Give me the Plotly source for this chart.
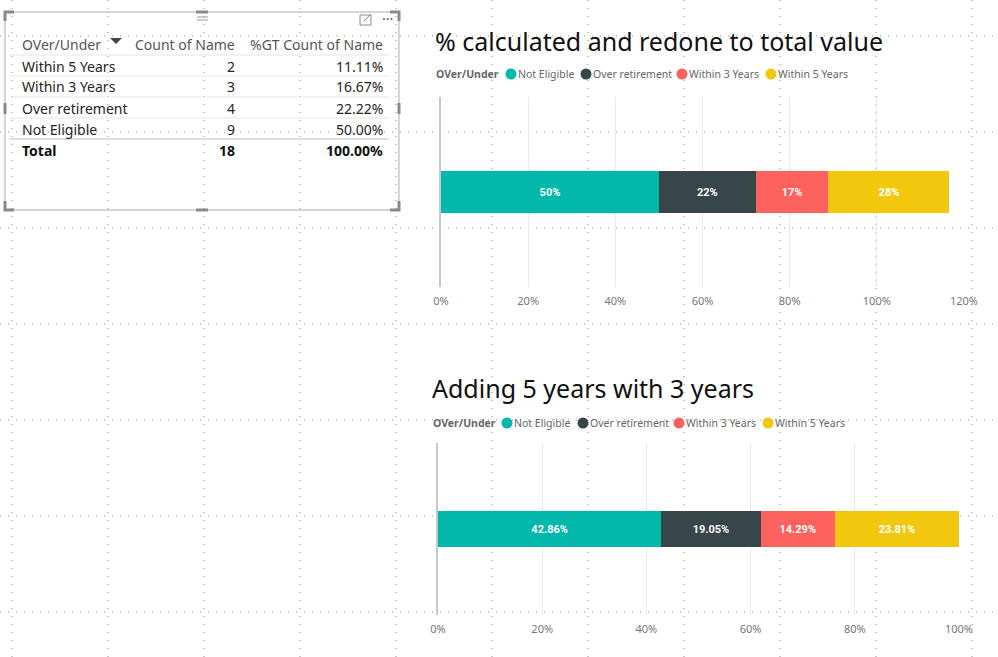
import plotly.graph_objects as go

W, H = 998, 657

# ---------------- data ----------------
table_headers = ["OVer/Under", "Count of Name", "%GT Count of Name"]
table_categories = ["Within 5 Years", "Within 3 Years", "Over retirement", "Not Eligible"]
table_counts = [2, 3, 4, 9]
table_pct = [11.11, 16.67, 22.22, 50.00]
table_total_label = "Total"
table_total_count = 18
table_total_pct = 100.00

series_names = ["Not Eligible", "Over retirement", "Within 3 Years", "Within 5 Years"]
chart1_values = [0.50, 0.2222, 0.1667, 0.2778]
chart2_values = [0.4286, 0.1905, 0.1429, 0.2381]
chart1_ticks = [0, 0.2, 0.4, 0.6, 0.8, 1.0, 1.2]
chart2_ticks = [0, 0.2, 0.4, 0.6, 0.8, 1.0]
chart1_title = "% calculated and redone to total value"
chart2_title = "Adding 5 years with 3 years"
legend_title = "OVer/Under"
bar_category = ["All"]

# ---------------- styles ----------------
colors = ["#01B8AA", "#374649", "#FD625E", "#F2C80F"]
FONT = "Segoe UI, Noto Sans, sans-serif"
LBL_FONT = "Roboto, sans-serif"


def px(x):
    return x / W


def py(y):
    return 1 - y / H


fig = go.Figure()

# ---------------- bars ----------------
for i, name in enumerate(series_names):
    fig.add_trace(go.Bar(
        x=[chart1_values[i]], y=bar_category, orientation="h", name=name,
        marker=dict(color=colors[i], line=dict(width=0)), width=0.216,
        texttemplate="%{x:.0%}", textposition="inside", insidetextanchor="middle",
        textangle=0, textfont=dict(family=LBL_FONT, size=11, color="white", weight="bold"),
        hoverinfo="skip", showlegend=False, xaxis="x", yaxis="y"))
    fig.add_trace(go.Bar(
        x=[chart2_values[i]], y=bar_category, orientation="h", name=name,
        marker=dict(color=colors[i], line=dict(width=0)), width=0.21,
        texttemplate="%{x:.2%}", textposition="inside", insidetextanchor="middle",
        textangle=0, textfont=dict(family=LBL_FONT, size=11, color="white", weight="bold"),
        hoverinfo="skip", showlegend=False, xaxis="x2", yaxis="y2"))

axis_common = dict(showgrid=True, gridcolor="#e9e9e9", gridwidth=1, zeroline=False,
                   showline=False, ticks="", tickformat=".0%", automargin=False,
                   tickfont=dict(family=FONT, size=11, color="#777777"),
                   ticklabelstandoff=6, fixedrange=True)
yaxis_common = dict(showgrid=False, zeroline=False, showticklabels=False, ticks="",
                    showline=True, linecolor="#c8c8c8", linewidth=1.5, automargin=False,
                    range=[-0.5, 0.5], fixedrange=True)

fig.update_layout(
    xaxis=dict(domain=[px(441), px(964)], range=[0, 1.2], tickvals=chart1_ticks,
               anchor="y", **axis_common),
    yaxis=dict(domain=[py(287), py(97)], anchor="x", **yaxis_common),
    xaxis2=dict(domain=[px(438), px(959)], range=[0, 1.0], tickvals=chart2_ticks,
                anchor="y2", **axis_common),
    yaxis2=dict(domain=[py(615), py(443)], anchor="x2", **yaxis_common),
    barmode="stack",
    autosize=False,
    width=W, height=H, margin=dict(l=0, r=0, t=0, b=0, pad=0, autoexpand=False),
    paper_bgcolor="white", plot_bgcolor="rgba(0,0,0,0)",
    showlegend=False,
)

shapes = []
annotations = []

# ---------------- dotted canvas grid ----------------
for gx in range(12, W, 96):
    shapes.append(dict(type="line", xref="paper", yref="paper", x0=px(gx), x1=px(gx),
                       y0=0, y1=1, layer="below",
                       line=dict(color="#8f8f8f", width=1, dash="1px,7px")))
for gy in range(36, H, 96):
    shapes.append(dict(type="line", xref="paper", yref="paper", x0=0, x1=1,
                       y0=py(gy), y1=py(gy), layer="below",
                       line=dict(color="#8f8f8f", width=1, dash="1px,7px")))

# ---------------- titles ----------------
annotations.append(dict(text=chart1_title, x=px(433), y=py(41), xref="paper", yref="paper",
                        xanchor="left", yanchor="middle", showarrow=False,
                        font=dict(family=FONT, size=25, color="#111111")))
annotations.append(dict(text=chart2_title, x=px(430), y=py(388), xref="paper", yref="paper",
                        xanchor="left", yanchor="middle", showarrow=False,
                        font=dict(family=FONT, size=25, color="#111111")))

# ---------------- legends ----------------
legend_rows = [
    dict(y=74, title_x=434, dots=[511, 586, 682, 771]),
    dict(y=423, title_x=431, dots=[507, 583, 679, 768]),
]
for row in legend_rows:
    annotations.append(dict(text="<b>" + legend_title + "</b>", x=px(row["title_x"]),
                            y=py(row["y"]), xref="paper", yref="paper", xanchor="left",
                            yanchor="middle", showarrow=False,
                            font=dict(family=FONT, size=10.5, color="#666666")))
    for i, name in enumerate(series_names):
        cx = row["dots"][i]
        shapes.append(dict(type="circle", xref="paper", yref="paper",
                           xsizemode="pixel", ysizemode="pixel",
                           xanchor=px(cx), yanchor=py(row["y"]),
                           x0=-5.5, x1=5.5, y0=-5.5, y1=5.5,
                           fillcolor=colors[i], line=dict(width=0)))
        annotations.append(dict(text=name, x=px(cx + 5), y=py(row["y"]), xref="paper",
                                yref="paper", xanchor="left", yanchor="middle",
                                showarrow=False,
                                font=dict(family=FONT, size=10.5, color="#666666")))

# ---------------- table visual ----------------
TL, TR, TT, TB = 5, 399, 12, 210
shapes.append(dict(type="rect", xref="paper", yref="paper", x0=px(TL), x1=px(TR),
                   y0=py(TB), y1=py(TT), line=dict(color="#c8c8c8", width=1.5)))
hc = "#8a8a8a"
for (cx, cy, dx, dy) in [(TL, TT, 1, 1), (TR, TT, -1, 1), (TL, TB, 1, -1), (TR, TB, -1, -1)]:
    path = (f"M {px(cx)},{py(cy + dy * 9)} L {px(cx)},{py(cy)} L {px(cx + dx * 9)},{py(cy)}")
    shapes.append(dict(type="path", xref="paper", yref="paper", path=path,
                       line=dict(color=hc, width=3)))
for (x0, x1, y0, y1) in [(196, 208, TT, TT), (196, 208, TB, TB)]:
    shapes.append(dict(type="line", xref="paper", yref="paper", x0=px(x0), x1=px(x1),
                       y0=py(y0), y1=py(y1), line=dict(color=hc, width=3)))
for xx in [TL, TR]:
    shapes.append(dict(type="line", xref="paper", yref="paper", x0=px(xx), x1=px(xx),
                       y0=py(103), y1=py(114), line=dict(color=hc, width=3)))
for gy in [17, 20]:
    shapes.append(dict(type="line", xref="paper", yref="paper", x0=px(197), x1=px(208),
                       y0=py(gy), y1=py(gy), line=dict(color="#9a9a9a", width=1)))
shapes.append(dict(type="rect", xref="paper", yref="paper", x0=px(360), x1=px(371),
                   y0=py(25), y1=py(15), line=dict(color="#8a8a8a", width=1)))
shapes.append(dict(type="line", xref="paper", yref="paper", x0=px(364), x1=px(371),
                   y0=py(21), y1=py(14), line=dict(color="#8a8a8a", width=1)))
annotations.append(dict(text="···", x=px(387), y=py(19), xref="paper", yref="paper",
                        xanchor="center", yanchor="middle", showarrow=False,
                        font=dict(family=FONT, size=14, color="#555555")))

row_y = [44, 66, 87, 108, 129, 150]
col_x = [20, 237, 385]
head_font = dict(family=FONT, size=14, color="#555555")
body_font = dict(family=FONT, size=14, color="#252423")
total_font = dict(family=FONT, size=14, color="#111111", weight="bold")
annotations.append(dict(text=table_headers[0], x=px(col_x[0]), y=py(row_y[0]),
                        xref="paper", yref="paper", xanchor="left", yanchor="middle",
                        showarrow=False, font=head_font))
for j in (1, 2):
    annotations.append(dict(text=table_headers[j], x=px(col_x[j]), y=py(row_y[0]),
                            xref="paper", yref="paper", xanchor="right", yanchor="middle",
                            showarrow=False, font=head_font))
shapes.append(dict(type="path", xref="paper", yref="paper",
                   path=f"M {px(110)},{py(38)} L {px(122)},{py(38)} L {px(116)},{py(44)} Z",
                   fillcolor="#444444", line=dict(width=0)))

for i, cat in enumerate(table_categories):
    yy = row_y[i + 1]
    annotations.append(dict(text=cat, x=px(col_x[0]), y=py(yy), xref="paper", yref="paper",
                            xanchor="left", yanchor="middle", showarrow=False, font=body_font))
    annotations.append(dict(text=str(table_counts[i]), x=px(col_x[1]), y=py(yy),
                            xref="paper", yref="paper", xanchor="right", yanchor="middle",
                            showarrow=False, font=body_font))
    annotations.append(dict(text=f"{table_pct[i]:.2f}%", x=px(col_x[2]), y=py(yy),
                            xref="paper", yref="paper", xanchor="right", yanchor="middle",
                            showarrow=False, font=body_font))
yy = row_y[5]
annotations.append(dict(text=table_total_label, x=px(col_x[0]), y=py(yy), xref="paper",
                        yref="paper", xanchor="left", yanchor="middle", showarrow=False,
                        font=total_font))
annotations.append(dict(text=str(table_total_count), x=px(col_x[1]), y=py(yy), xref="paper",
                        yref="paper", xanchor="right", yanchor="middle", showarrow=False,
                        font=total_font))
annotations.append(dict(text=f"{table_total_pct:.2f}%", x=px(col_x[2]), y=py(yy),
                        xref="paper", yref="paper", xanchor="right", yanchor="middle",
                        showarrow=False, font=total_font))
for k, ly in enumerate([55, 76, 97, 118, 139]):
    col = "#bdbdbd" if k == 4 else "#e6e6e6"
    shapes.append(dict(type="line", xref="paper", yref="paper", x0=px(10), x1=px(389),
                       y0=py(ly), y1=py(ly), line=dict(color=col, width=1)))

fig.update_layout(shapes=shapes, annotations=annotations)
fig.write_html("out.html", config={"responsive": False, "displayModeBar": False},
               post_script="document.body.style.margin='0';document.body.style.overflow='hidden';")
